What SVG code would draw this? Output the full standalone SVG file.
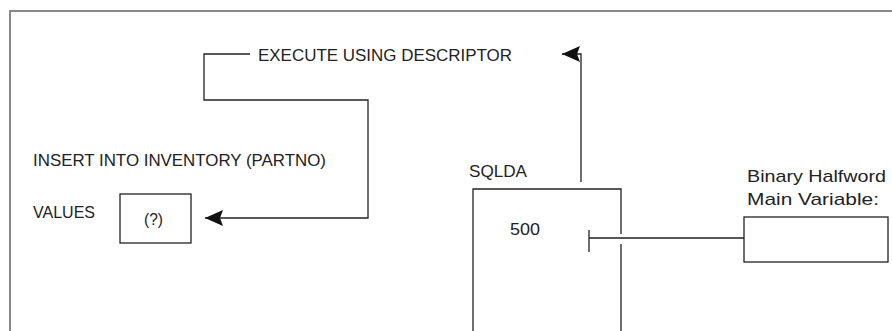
<svg xmlns="http://www.w3.org/2000/svg" width="892" height="331" viewBox="0 0 892 331">
<style>
.t{font-family:"Liberation Sans",Arial,sans-serif;font-size:17px;fill:#222}
.ln{fill:none;stroke:#222;stroke-width:1.3}
.fr{fill:none;stroke:#888;stroke-width:2}
</style>
<defs>
<marker id="ah" markerWidth="20" markerHeight="18" refX="19" refY="9" orient="auto" markerUnits="userSpaceOnUse">
<path d="M19,9 L1,1 L4,9 L1,17 Z" fill="#111"/>
</marker>
</defs>
<rect width="892" height="331" fill="#fff"/>
<g id="frame">
<path class="fr" d="M10,331 V11 H892"/>
</g>
<g id="execute-label">
<text class="t" x="258" y="61" textLength="254" lengthAdjust="spacingAndGlyphs">EXECUTE USING DESCRIPTOR</text>
</g>
<g id="insert-label">
<text class="t" x="33" y="166" textLength="293" lengthAdjust="spacingAndGlyphs">INSERT INTO INVENTORY (PARTNO)</text>
</g>
<g id="values-label">
<text class="t" x="33" y="218" textLength="62" lengthAdjust="spacingAndGlyphs">VALUES</text>
</g>
<g id="param-box">
<rect class="ln" x="120" y="194" width="71" height="49"/>
<text class="t" x="144" y="225" textLength="19" lengthAdjust="spacingAndGlyphs">(?)</text>
</g>
<g id="sqlda">
<text class="t" x="469" y="177" textLength="58" lengthAdjust="spacingAndGlyphs">SQLDA</text>
<path class="ln" d="M473,331 V189 H621 V234 M621,244 V331"/>
<text class="t" x="510" y="235" textLength="30" lengthAdjust="spacingAndGlyphs">500</text>
</g>
<g id="host-variable">
<text class="t" x="747" y="182" textLength="139" lengthAdjust="spacingAndGlyphs">Binary Halfword</text>
<text class="t" x="747" y="205" textLength="132" lengthAdjust="spacingAndGlyphs">Main Variable:</text>
<rect class="ln" x="744" y="217" width="144" height="45"/>
</g>
<g id="connectors">
<path class="ln" d="M250,54 H204 V100 H368 V218 H205" marker-end="url(#ah)"/>
<path class="ln" d="M581,182 V54 H562" marker-end="url(#ah)"/>
<path class="ln" d="M589,230 V252 M589,238 H744"/>
</g>
</svg>
